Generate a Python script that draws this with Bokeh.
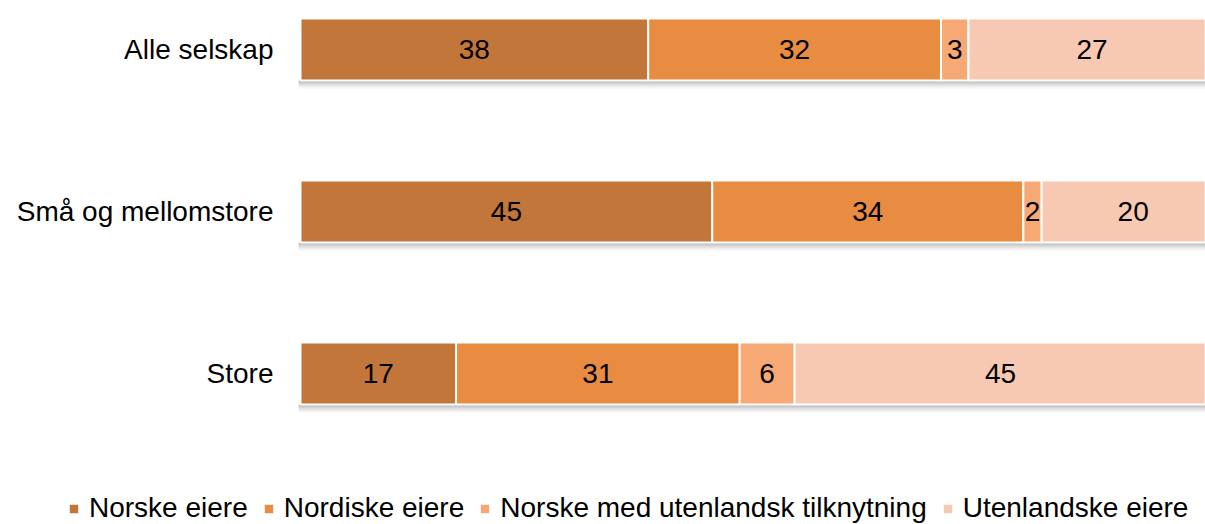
from bokeh.plotting import figure
from bokeh.models import ColumnDataSource, Range1d, Legend, LegendItem
from bokeh.embed import file_html
from bokeh.resources import INLINE
from bokeh.core.properties import value

categories = ["Alle selskap", "Små og mellomstore", "Store"]
series = ["Norske eiere", "Nordiske eiere", "Norske med utenlandsk tilknytning", "Utenlandske eiere"]
norske = [38, 45, 17]
nordiske = [32, 34, 31]
norske_utl = [3, 2, 6]
utenlandske = [27, 20, 45]
colors = ["#C3763A", "#E88C41", "#F6A974", "#F8C9B2"]

FONT = "Liberation Sans"
W, H = 1205, 524
px_x = 9.15          # pixels per percent
left_px = 300
unit_y = 162.0       # pixels between bar centres
top_px = 49.0

p = figure(width=W, height=H, output_backend="svg", toolbar_location=None,
           x_range=Range1d(-left_px / px_x, (W - left_px) / px_x),
           y_range=Range1d((H - top_px) / unit_y, -top_px / unit_y),
           x_axis_location=None, y_axis_location=None, min_border=0)
p.grid.visible = False
p.outline_line_color = None
p.background_fill_color = "white"

ys = list(range(len(categories)))
keys = ["s0", "s1", "s2", "s3"]
data = {"y": ys, "cat": categories, "s0": norske, "s1": nordiske, "s2": norske_utl, "s3": utenlandske}
src = ColumnDataSource(data)
bar_h = 62 / unit_y

# soft shadow under bars
totals = [a + b + c + d for a, b, c, d in zip(norske, nordiske, norske_utl, utenlandske)]
pxy = 1 / unit_y
for off0, off1, alpha in [(0, 2, 0.55), (2, 4, 0.35), (4, 6, 0.2), (6, 8, 0.08)]:
    p.quad(left=[-0.2] * 3, right=totals,
           top=[y + bar_h / 2 + off0 * pxy for y in ys],
           bottom=[y + bar_h / 2 + off1 * pxy for y in ys],
           fill_color="#7a7a7a", fill_alpha=alpha, line_color=None)

rends = p.hbar_stack(keys, y="y", height=bar_h, color=colors, source=src,
                     line_color="white", line_width=2)

# value labels
lx, ly, lt = [], [], []
for i in ys:
    cum = 0
    for arr in (norske, nordiske, norske_utl, utenlandske):
        v = arr[i]
        lx.append(cum + v / 2)
        ly.append(i)
        lt.append(str(v))
        cum += v
p.text(x=lx, y=ly, text=lt, text_align="center", text_baseline="middle",
       text_font=value(FONT), text_font_size="28px", text_color="#000000")

# category labels
p.text(x=[0] * 3, y=ys, text=categories, x_offset=-27, text_align="right",
       text_baseline="middle", text_font=value(FONT), text_font_size="28px",
       text_color="#000000")

legend = Legend(items=[LegendItem(label=s, renderers=[r]) for s, r in zip(series, rends)],
                orientation="horizontal", location=(67, 0),
                glyph_width=13, glyph_height=13, label_standoff=9, spacing=14,
                padding=0, margin=0, border_line_alpha=0, background_fill_alpha=0,
                label_text_font=FONT, label_text_font_size="28px", label_text_color="#000000")
p.add_layout(legend)

open("out.html", "w").write(file_html(p, INLINE))
